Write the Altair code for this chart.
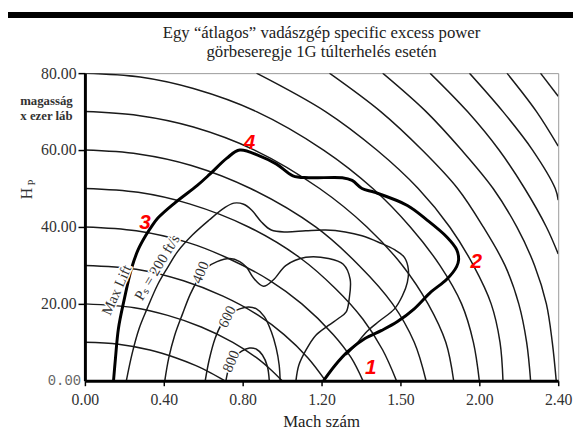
import altair as alt
import pandas as pd

TITLE_LINE1 = "Egy “átlagos” vadászgép specific excess power"
TITLE_LINE2 = "görbeseregje 1G túlterhelés esetén"
X_TITLE = "Mach szám"
Y_UNIT_1 = "magasság"
Y_UNIT_2 = "x ezer láb"

XTICK_VALUES = [0.0, 0.4, 0.8, 1.2, 1.6, 2.0, 2.4]
XTICK_LABELS = ["0.00", "0.40", "0.80", "1.20", "1.50", "2.00", "2.40"]
YTICK_VALUES = [20, 40, 60, 80]

# energy-height lines (Mach, altitude in 1000 ft)
E10_M = [0, 0.17, 0.33, 0.46, 0.56, 0.64, 0.71]
E10_H = [10, 9.5, 8, 6, 4, 2, 0]
E20_M = [0, 0.25, 0.42, 0.59, 0.75, 0.87, 0.94, 1.0]
E20_H = [20, 19, 17, 14, 10, 6, 3, 0]
E30_M = [0, 0.26, 0.50, 0.70, 0.88, 1.01, 1.13, 1.22]
E30_H = [30, 29, 26, 22, 17, 12, 6, 0]
E40_M = [0, 0.26, 0.52, 0.72, 0.94, 1.10, 1.26, 1.35, 1.41]
E40_H = [40, 39, 36, 32, 26, 20, 12, 6, 0]
E50_M = [0, 0.27, 0.53, 0.83, 1.09, 1.27, 1.41, 1.51, 1.58]
E50_H = [50, 49, 46, 40, 32, 24, 16, 8, 0]
E60_M = [0, 0.27, 0.54, 0.84, 1.17, 1.39, 1.56, 1.67, 1.73]
E60_H = [60, 59, 56, 50, 40, 30, 20, 10, 0]
E70_M = [0, 0.27, 0.55, 0.86, 1.19, 1.43, 1.61, 1.74, 1.83, 1.87]
E70_H = [70, 69, 66, 60, 50, 40, 30, 20, 10, 0]
E80_M = [0, 0.28, 0.55, 0.87, 1.21, 1.46, 1.65, 1.80, 1.91, 1.97, 2.0]
E80_H = [80, 79, 76, 70, 60, 50, 40, 30, 20, 10, 0]
E90_M = [0.87, 1.22, 1.48, 1.69, 1.85, 1.97, 2.06, 2.105, 2.12]
E90_H = [80, 70, 60, 50, 40, 30, 20, 10, 0]
E100_M = [1.24, 1.50, 1.71, 1.89, 2.02, 2.13, 2.20, 2.24, 2.26]
E100_H = [80, 70, 60, 50, 40, 30, 20, 10, 0]
E110_M = [1.51, 1.73, 1.91, 2.07, 2.19, 2.28, 2.34, 2.37, 2.39]
E110_H = [80, 70, 60, 50, 40, 30, 20, 10, 0]
E120_M = [1.75, 1.94, 2.10, 2.23, 2.34, 2.40]
E120_H = [80, 70, 60, 50, 40, 33]
E130_M = [1.95, 2.12, 2.27, 2.385, 2.40]
E130_H = [80, 70, 60, 50, 47]
E140_M = [2.14, 2.29, 2.40]
E140_H = [80, 70, 61]
E150_M = [2.31, 2.40]
E150_H = [80, 74]

# Ps = 0 envelope (thick, incl. max lift boundary)
ENV_M = [0.145, 0.155, 0.17, 0.20, 0.235, 0.27, 0.31, 0.335, 0.37, 0.455, 0.57, 0.635,
         0.72, 0.785, 0.885, 0.97, 1.055, 1.135, 1.305, 1.355, 1.405, 1.47, 1.635, 1.735,
         1.835, 1.885, 1.895, 1.885, 1.835, 1.755, 1.67, 1.585, 1.505, 1.42, 1.335, 1.27, 1.21]
ENV_H = [0, 5.9, 13.6, 21.3, 29.0, 34.1, 37.9, 39.9, 42.3, 46.2, 50.8, 53.8,
         57.9, 60.0, 58.5, 56.4, 53.3, 52.8, 52.8, 52.1, 50.0, 49.0, 45.6, 41.8,
         37.4, 34.1, 31.5, 29.7, 26.4, 23.1, 18.7, 15.4, 13.1, 11.0, 7.7, 4.1, 0]

# Ps contours
PS200_M = [0.21, 0.24, 0.275, 0.315, 0.37, 0.42, 0.47, 0.545, 0.63, 0.705, 0.755, 0.805,
           0.845, 0.895, 0.945, 1.02, 1.12, 1.22, 1.32, 1.405, 1.495, 1.57, 1.62, 1.64,
           1.635, 1.61, 1.57, 1.495, 1.43, 1.37, 1.325]
PS200_H = [0, 7.2, 13.6, 18.7, 25.1, 29.5, 33.6, 37.9, 41.8, 44.9, 46.2, 45.9,
           44.4, 41.3, 39.2, 38.7, 39.0, 39.2, 38.7, 37.7, 35.9, 34.1, 32.1, 29.0,
           25.6, 22.1, 18.7, 15.6, 12.8, 9.2, 6.7]
PS400_M = [0.405, 0.425, 0.455, 0.495, 0.535, 0.575, 0.62, 0.67, 0.735, 0.785, 0.82, 0.855,
           0.905, 0.955, 1.02, 1.12, 1.235, 1.31, 1.345, 1.34, 1.325, 1.285, 1.235, 1.17,
           1.12, 1.085, 1.07]
PS400_H = [0, 5.9, 11.8, 17.4, 22.6, 26.4, 29.5, 31.0, 31.8, 31.0, 29.5, 26.7,
           24.6, 26.2, 30.0, 32.1, 31.8, 30.3, 26.4, 21.3, 17.9, 16.2, 14.4, 11.8,
           7.9, 4.1, 0]
PS600_M = [0.61, 0.63, 0.66, 0.695, 0.735, 0.785, 0.83, 0.87, 0.91, 0.945, 0.97, 0.985, 0.99]
PS600_H = [0, 5.4, 11.0, 14.9, 17.4, 18.7, 19.2, 18.7, 16.7, 12.8, 8.5, 4.1, 0]
PS800_M = [0.715, 0.73, 0.755, 0.795, 0.835, 0.87, 0.90, 0.925, 0.935]
PS800_H = [0, 3.3, 5.9, 7.7, 8.5, 8.2, 6.7, 3.8, 0]

ENERGY = [("E10", E10_M, E10_H), ("E20", E20_M, E20_H), ("E30", E30_M, E30_H),
          ("E40", E40_M, E40_H), ("E50", E50_M, E50_H), ("E60", E60_M, E60_H),
          ("E70", E70_M, E70_H), ("E80", E80_M, E80_H), ("E90", E90_M, E90_H),
          ("E100", E100_M, E100_H), ("E110", E110_M, E110_H), ("E120", E120_M, E120_H),
          ("E130", E130_M, E130_H), ("E140", E140_M, E140_H), ("E150", E150_M, E150_H)]
CONTOURS = [("PS200", PS200_M, PS200_H), ("PS400", PS400_M, PS400_H),
            ("PS600", PS600_M, PS600_H), ("PS800", PS800_M, PS800_H)]

rows = []
for kind, group in (("energy", ENERGY), ("contour", CONTOURS), ("envelope", [("ENV", ENV_M, ENV_H)])):
    for name, ms, hs in group:
        for i, (m, h) in enumerate(zip(ms, hs)):
            rows.append({"curve": name, "kind": kind, "i": i, "M": m, "H": h})
df = pd.DataFrame(rows)

x_expr = "''"
for v, lab in reversed(list(zip(XTICK_VALUES, XTICK_LABELS))):
    x_expr = f"abs(datum.value - {v}) < 0.01 ? '{lab}' : ({x_expr})"

SERIF = "Liberation Serif"

X = alt.X("M:Q", scale=alt.Scale(domain=[0, 2.4], nice=False, zero=False),
          axis=alt.Axis(values=XTICK_VALUES, labelExpr=x_expr, title=None, grid=False,
                        domainColor="black", domainWidth=3, tickColor="black", tickWidth=1.5,
                        tickSize=5, labelFont=SERIF, labelFontSize=16, labelColor="#333",
                        labelPadding=6, labelFlush=False, labelOverlap=False, zindex=1))
Y = alt.Y("H:Q", scale=alt.Scale(domain=[0, 80], nice=False, zero=False),
          axis=alt.Axis(values=YTICK_VALUES, format=".2f", title=None, grid=False,
                        domainColor="black", domainWidth=3, tickColor="black", tickWidth=1.5,
                        tickSize=7, labelFont=SERIF, labelFontSize=16, labelColor="#333",
                        labelPadding=2, labelOverlap=False, zindex=1))

base = alt.Chart(df)
energy = base.transform_filter("datum.kind == 'energy'").mark_line(
    interpolate="catmull-rom", clip=True, color="#1a1a1a", strokeWidth=1.5
).encode(x=X, y=Y, detail="curve:N", order="i:Q")
contour = base.transform_filter("datum.kind == 'contour'").mark_line(
    interpolate="catmull-rom", clip=True, color="#1a1a1a", strokeWidth=1.5
).encode(x=X, y=Y, detail="curve:N", order="i:Q")
envelope = base.transform_filter("datum.kind == 'envelope'").mark_line(
    interpolate="catmull-rom", clip=True, color="#000", strokeWidth=3
).encode(x=X, y=Y, detail="curve:N", order="i:Q")

one = pd.DataFrame({"k": [0]})


def ptext(txt, px, py, **kw):
    return alt.Chart(one).mark_text(text=txt, **kw).encode(x=alt.value(px), y=alt.value(py))


def dtext(txt, m, h, **kw):
    return alt.Chart(one).mark_text(text=txt, **kw).encode(x=alt.datum(m), y=alt.datum(h))


layers = [energy, contour, envelope]

# contour labels with white halo
clabels = [("Max Lift", 0.16, 23.6, 294), ("Pₛ = 200 ft/s", 0.365, 29.5, 301),
           ("400", 0.585, 28.2, 293), ("600", 0.72, 16.7, 296), ("800", 0.74, 5.1, 293)]
for txt, m, h, ang in clabels:
    layers.append(dtext(txt, m, h, angle=ang, font=SERIF, fontSize=15, color="white",
                        stroke="white", strokeWidth=3, align="center", baseline="middle"))
    layers.append(dtext(txt, m, h, angle=ang, font=SERIF, fontSize=15, color="#333",
                        align="center", baseline="middle"))

# red point numbers
for txt, m, h in [("1", 1.45, 3.3), ("2", 1.985, 30.8), ("3", 0.305, 41.0), ("4", 0.835, 61.8)]:
    layers.append(dtext(txt, m, h, font="Liberation Sans", fontSize=21, fontWeight="bold",
                        fontStyle="italic", color="#ff0000", align="center", baseline="middle"))

# titles and side texts
layers += [
    ptext(TITLE_LINE1, 240, -41, font=SERIF, fontSize=17, color="#222", align="center", baseline="middle"),
    ptext(TITLE_LINE2, 240, -21, font=SERIF, fontSize=17, color="#222", align="center", baseline="middle"),
    ptext(X_TITLE, 240, 354, font=SERIF, fontSize=17, color="#222", align="center", baseline="middle"),
    ptext(Y_UNIT_1, -39, 28, font=SERIF, fontSize=13, fontWeight="bold", color="#333", align="center", baseline="middle"),
    ptext(Y_UNIT_2, -39, 44, font=SERIF, fontSize=13, fontWeight="bold", color="#333", align="center", baseline="middle"),
    ptext("H", -59, 122, font=SERIF, fontSize=16, color="#333", angle=270, align="center", baseline="middle"),
    ptext("P", -54, 111, font=SERIF, fontSize=11, color="#333", angle=270, align="center", baseline="middle"),
    ptext("0.00", -4, 312, font="Liberation Mono", fontSize=14, color="#666", align="right", baseline="middle"),
    alt.Chart(one).mark_rect(color="black").encode(
        x=alt.value(-78), x2=alt.value(495), y=alt.value(-62), y2=alt.value(-56)),
]

chart = alt.layer(*layers).properties(
    width=480, height=312,
    autosize=alt.AutoSizeParams(type="none"),
    padding={"left": 78, "top": 63, "right": 15, "bottom": 58},
    background="white",
).configure_view(stroke="#999999", strokeWidth=1)

chart.save("out.html", embed_options={"renderer": "svg", "actions": False})
